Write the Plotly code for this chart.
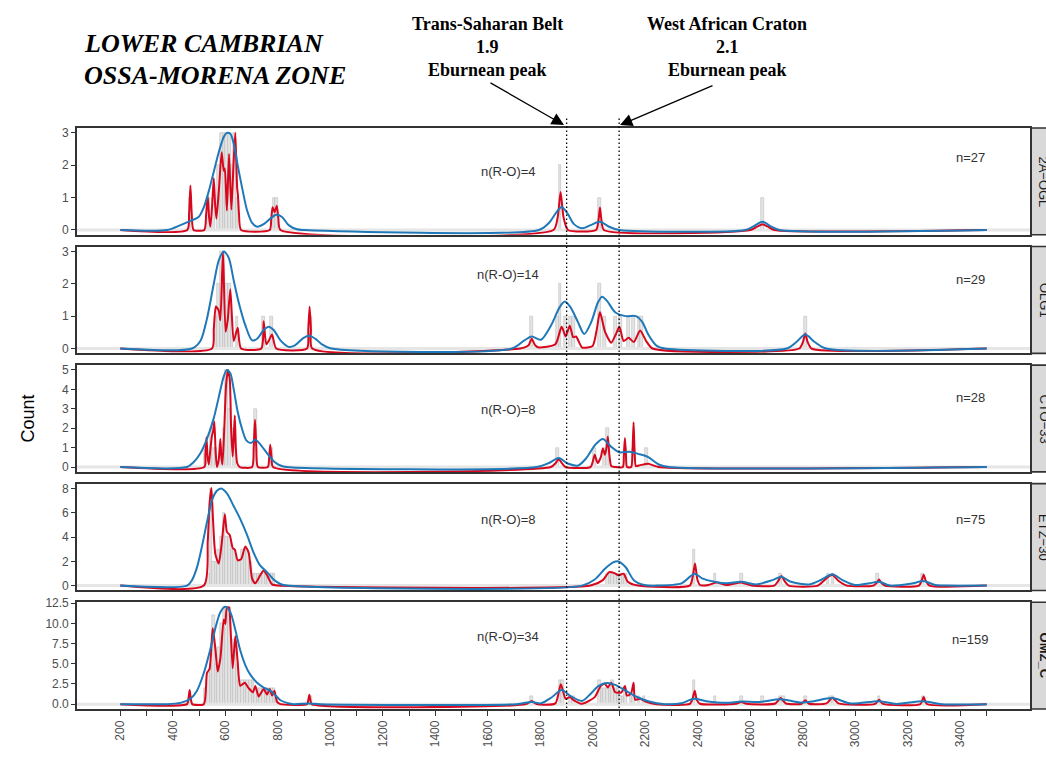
import plotly.graph_objects as go

# ---------------- data ----------------
PANEL_NAMES = ["2A\u2212OGL", "OLG1", "CTO\u221233", "ETZ\u221230", "OMZ_C"]
N_TOTAL = [27, 29, 28, 75, 159]
N_RO = [4, 14, 8, 8, 34]
Y_MAX = [3.15, 3.15, 5.25, 8.4, 12.62]
Y_MIN = [-0.15, -0.15, -0.25, -0.4, -0.6]
Y_TICKS = [[0, 1, 2, 3], [0, 1, 2, 3], [0, 1, 2, 3, 4, 5], [0, 2, 4, 6, 8],
           [0, 2.5, 5, 7.5, 10, 12.5]]
Y_TICK_TEXT = [["0", "1", "2", "3"], ["0", "1", "2", "3"], ["0", "1", "2", "3", "4", "5"],
               ["0", "2", "4", "6", "8"], ["0.0", "2.5", "5.0", "7.5", "10.0", "12.5"]]
RO_LABEL_Y = [1.82, 2.3, 2.94, 5.48, 8.33]
N_LABEL_Y = [2.24, 2.13, 3.56, 5.48, 7.94]

X_MIN, X_MAX = 35, 3665
X_TICKS = list(range(200, 3600, 100))
X_TICK_TEXT = [str(v) if v % 200 == 0 and v <= 3400 else "" for v in X_TICKS]
EBURNEAN_LINES = [1900, 2100]

# histograms (bin centre, count), binwidth 10 Ma
hist1_x = [465, 535, 555, 575, 585, 595, 605, 615, 625, 635, 645, 785, 795, 1875, 2025, 2645]
hist1_y = [1, 1, 1, 2, 3, 3, 3, 3, 2, 3, 1, 1, 1, 2, 1, 1]
hist2_x = [565, 575, 585, 595, 605, 615, 625, 645, 745, 775, 925, 1765, 1865, 1875, 1895, 1915,
           1925, 2025, 2045, 2085, 2105, 2135, 2155, 2175, 2185, 2810]
hist2_y = [1, 2, 3, 3, 2, 2, 1, 1, 1, 1, 1, 1, 1, 2, 1, 1, 1, 2, 1, 1, 1, 1, 1, 1, 1, 1]
hist3_x = [525, 545, 555, 565, 585, 595, 605, 615, 635, 715, 775, 1865, 2005, 2045, 2055, 2125,
           2155, 2205]
hist3_y = [1, 2, 1, 1, 1, 2, 5, 3, 2, 3, 1, 1, 1, 1, 2, 1, 1, 1]
hist4_x = [535, 545, 555, 565, 575, 585, 595, 605, 615, 625, 635, 645, 655, 665, 675, 685, 695,
           705, 715, 725, 735, 745, 755, 765, 775, 785, 2055, 2065, 2075, 2085, 2095, 2105, 2115,
           2125, 2385, 2465, 2565, 2715, 2895, 2915, 3085, 3255]
hist4_y = [1, 8, 2, 2, 3, 4, 6, 4, 4, 3, 3, 2, 2, 3, 3, 3, 2, 1, 1, 1, 1, 1, 1, 1, 1, 1,
           1, 1, 1, 1, 1, 1, 1, 1, 3, 1, 1, 1, 1, 1, 1, 1]
hist5_x = [465, 525, 535, 545, 555, 565, 575, 585, 595, 605, 615, 625, 635, 645, 655, 665, 675,
           685, 695, 705, 715, 725, 735, 745, 755, 765, 775, 785, 795, 925, 1765, 1875, 1885,
           1915, 1925, 2025, 2035, 2045, 2055, 2065, 2075, 2085, 2095, 2105, 2115, 2125, 2145,
           2155, 2175, 2195, 2385, 2465, 2565, 2645, 2715, 2725, 2810, 2905, 2915, 3090, 3260]
hist5_y = [1, 2, 4, 5, 11, 5, 7, 10, 12, 11, 12, 6, 8, 5, 3, 3, 3, 3, 3, 3, 2, 2, 2, 2, 2, 2,
           2, 2, 1, 1, 1, 3, 3, 1, 1, 3, 2, 2, 2, 2, 3, 2, 2, 1, 1, 2, 1, 1, 1, 1, 3, 1, 1, 1, 1,
           1, 1, 1, 1, 1, 1]

# narrow-bandwidth density (red)
red1_x = [200, 455, 462, 467, 472, 479, 520, 527, 533, 538, 543, 550, 556, 561, 566, 576, 586,
          594, 598, 606, 614, 623, 631, 638, 645, 648, 652, 660, 769, 775, 780, 788, 796, 802,
          810, 1850, 1866, 1877, 1888, 1905, 2012, 2022, 2027, 2032, 2042, 2600, 2625, 2646,
          2667, 2691, 3500]
red1_y = [0, 0, 0.5, 1.37, 0.5, 0, 0, 0.5, 1.04, 0.4, 0.1, 0.8, 1.6, 0.8, 0.35, 1.3, 2.4, 1.83,
          1.9, 0.6, 2.35, 0.63, 2.0, 3.0, 1.3, 1.08, 0.5, 0, 0, 0.35, 0.7, 0.55, 0.75, 0.35, 0,
          0, 0.4, 1.17, 0.4, 0, 0, 0.35, 0.69, 0.35, 0, 0, 0.1, 0.18, 0.1, 0, 0]
red2_x = [200, 549, 556, 564, 575, 581, 591, 601, 609, 619, 632, 647, 660, 737, 746, 756, 766,
          778, 794, 911, 916, 921, 926, 931, 1723, 1755, 1767, 1780, 1794, 1857, 1881, 1896,
          1912, 1925, 1936, 1959, 1999, 2015, 2027, 2046, 2070, 2088, 2101, 2117, 2136, 2156,
          2180, 2203, 2227, 2786, 2800, 2809, 2818, 2833, 3500]
red2_y = [0, 0, 0.6, 1.3, 1.17, 0.87, 3.0, 0.52, 0.87, 1.83, 0.23, 0.64, 0, 0, 0.84, 0.13, 0.25,
          0.43, 0, 0, 0.6, 1.29, 0.6, 0, 0, 0.1, 0.3, 0.1, 0.03, 0.13, 0.67, 0.38, 0.7, 0.35,
          0.37, 0.03, 0.08, 0.6, 1.13, 0.52, 0.18, 0.45, 0.67, 0.23, 0.33, 0.2, 0.56, 0.23, 0,
          0, 0.2, 0.46, 0.2, 0, 0]
red3_x = [200, 520, 524, 528, 532, 537, 543, 549, 553, 558, 563, 568, 575, 581, 585, 589, 596,
          603, 610, 617, 622, 628, 632, 636, 640, 645, 655, 702, 708, 713, 718, 724, 762, 767,
          771, 776, 782, 1840, 1858, 1870, 1882, 1896, 1991, 2000, 2007, 2018, 2030, 2038, 2046,
          2052, 2057, 2063, 2070, 2085, 2114, 2118, 2122, 2126, 2130, 2146, 2151, 2155, 2159,
          2164, 2180, 2211, 2251, 3500]
red3_y = [0, 0, 0.6, 1.53, 0.6, 0.13, 0.9, 1.62, 1.8, 2.35, 0.8, 0, 0.4, 1.45, 0.5, 0.13, 2.0,
          4.26, 5.0, 4.5, 2.0, 0.54, 1.5, 2.66, 1.0, 0.21, 0, 0, 1.0, 2.44, 1.0, 0, 0, 0.5, 1.15,
          0.5, 0, 0, 0.2, 0.41, 0.2, 0, 0, 0.3, 0.63, 0.21, 0.5, 0.96, 0.63, 1.0, 1.57, 0.6,
          0.05, 0, 0, 0.6, 1.49, 0.6, 0, 0, 0.8, 2.31, 0.8, 0.05, 0.1, 0.17, 0, 0]
red4_x = [200, 518, 533, 540, 547, 553, 562, 575, 587, 598, 606, 617, 628, 636, 647, 660, 676,
          689, 702, 714, 733, 746, 759, 778, 803, 1991, 2038, 2062, 2082, 2098, 2117, 2133, 2172,
          2369, 2380, 2389, 2398, 2408, 2440, 2471, 2510, 2565, 2605, 2691, 2705, 2718, 2731,
          2746, 2857, 2896, 2912, 2935, 2967, 3069, 3082, 3090, 3098, 3112, 3242, 3252, 3260,
          3268, 3282, 3500]
red4_y = [0, 0, 3.63, 6.8, 8.05, 5.48, 2.57, 1.83, 3.63, 5.88, 4.42, 4.16, 3.1, 2.97, 2.1, 2.17,
          3.23, 2.7, 0.58, 0.19, 0.85, 1.25, 0.85, 0.1, 0, 0, 0.45, 1.11, 1.03, 0.85, 0.98, 0.32,
          0, 0, 0.7, 1.83, 0.5, 0.05, 0.05, 0.26, 0.05, 0.26, 0, 0, 0.35, 0.8, 0.35, 0, 0, 0.72,
          0.9, 0.4, 0, 0, 0.25, 0.5, 0.25, 0, 0, 0.4, 0.9, 0.4, 0, 0]
red5_x = [200, 454, 460, 464, 468, 474, 518, 530, 540, 552, 562, 571, 581, 594, 600, 606, 614,
          619, 628, 638, 647, 657, 674, 689, 705, 714, 727, 746, 759, 769, 778, 787, 797, 810,
          911, 916, 920, 924, 929, 1745, 1767, 1786, 1857, 1878, 1896, 1912, 1928, 1959, 2007,
          2030, 2046, 2057, 2070, 2085, 2109, 2122, 2129, 2145, 2155, 2161, 2180, 2203, 2243,
          2369, 2380, 2388, 2396, 2408, 2545, 2565, 2585, 2695, 2715, 2735, 2795, 2809, 2823,
          2890, 2912, 2935, 3075, 3090, 3105, 3248, 3260, 3272, 3500]
red5_y = [0, 0, 0.8, 1.75, 0.8, 0, 0, 3.85, 4.37, 9.4, 6.83, 4.05, 5.63, 10.48, 9.92, 11.98,
          11.98, 10.0, 4.44, 8.41, 5.24, 2.26, 2.66, 1.98, 1.47, 2.26, 0.95, 1.87, 1.19, 1.87,
          1.07, 1.67, 0.28, 0, 0, 0.5, 1.15, 0.5, 0, 0, 0.4, 0, 0.1, 2.46, 0.67, 0.87, 0.48,
          0.05, 0.87, 2.26, 2.54, 2.06, 2.66, 1.47, 1.47, 2.26, 1.07, 1.27, 2.66, 0.56, 0.67,
          0.28, 0, 0.03, 0.7, 1.67, 0.5, 0.05, 0.05, 0.28, 0.05, 0.08, 0.75, 0.08, 0.05, 0.48,
          0.05, 0.1, 0.79, 0.1, 0.03, 0.56, 0.03, 0.02, 0.87, 0.02, 0]

# wide-bandwidth density (blue)
blue1_x = [200, 378, 429, 467, 498, 518, 537, 556, 575, 594, 606, 619, 632, 647, 664, 683, 702,
           721, 746, 771, 794, 816, 841, 873, 900, 1794, 1833, 1857, 1881, 1904, 1928, 1959,
           1991, 2027, 2062, 2101, 2581, 2610, 2646, 2680, 2711, 3500]
blue1_y = [0, 0, 0.15, 0.28, 0.4, 0.7, 1.2, 1.8, 2.4, 2.87, 3.0, 2.97, 2.67, 2.0, 1.3, 0.6, 0.22,
           0.1, 0.18, 0.35, 0.47, 0.4, 0.15, 0.02, 0, 0, 0.22, 0.5, 0.71, 0.5, 0.18, 0.05, 0.15,
           0.25, 0.1, 0, 0, 0.1, 0.25, 0.1, 0, 0]
blue2_x = [200, 473, 505, 530, 556, 575, 594, 613, 632, 651, 676, 702, 721, 746, 765, 784, 810,
           841, 865, 898, 921, 943, 968, 1000, 1692, 1739, 1767, 1802, 1841, 1873, 1893, 1915,
           1944, 1967, 1994, 2019, 2035, 2054, 2085, 2125, 2164, 2188, 2211, 2243, 2274, 2739,
           2775, 2809, 2845, 2888, 3500]
blue2_y = [0, 0, 0.23, 0.92, 2.0, 2.72, 3.0, 2.8, 2.1, 1.42, 0.72, 0.25, 0.3, 0.57, 0.67, 0.57,
           0.25, 0.05, 0.1, 0.33, 0.39, 0.3, 0.13, 0.01, 0, 0.25, 0.37, 0.27, 0.72, 1.27, 1.45,
           1.27, 0.8, 0.45, 0.82, 1.42, 1.6, 1.47, 1.12, 1.0, 1.0, 0.82, 0.43, 0.08, 0, 0, 0.2,
           0.43, 0.2, 0, 0]
blue3_x = [200, 454, 479, 505, 530, 556, 575, 594, 606, 619, 632, 647, 664, 680, 698, 714, 733,
           759, 784, 810, 835, 1786, 1833, 1870, 1904, 1944, 1975, 2010, 2038, 2070, 2101, 2140,
           2172, 2211, 2251, 2290, 3500]
blue3_y = [0, 0, 0.25, 0.71, 1.45, 2.52, 3.6, 4.67, 5.0, 4.83, 4.0, 2.85, 1.95, 1.37, 1.24, 1.4,
           1.17, 0.71, 0.3, 0.08, 0, 0, 0.21, 0.46, 0.18, 0.08, 0.46, 1.17, 1.45, 1.04, 0.76,
           0.79, 0.68, 0.51, 0.13, 0, 0]
blue4_x = [200, 454, 473, 492, 511, 530, 549, 568, 584, 606, 632, 657, 683, 708, 733, 759, 784,
           810, 835, 1959, 2007, 2046, 2077, 2098, 2125, 2156, 2196, 2243, 2337, 2369, 2388,
           2416, 2463, 2510, 2565, 2621, 2684, 2718, 2754, 2825, 2872, 2912, 2951, 2998, 3053,
           3090, 3132, 3219, 3258, 3305, 3345, 3500]
blue4_y = [0, 0, 0.45, 1.5, 3.23, 5.22, 7.02, 7.81, 8.0, 7.6, 6.54, 5.48, 4.16, 2.7, 1.64, 1.11,
           0.5, 0.13, 0, 0, 0.5, 1.38, 1.91, 1.99, 1.51, 0.45, 0.05, 0, 0.18, 0.72, 0.98, 0.6,
           0.32, 0.19, 0.32, 0.1, 0.45, 0.72, 0.32, 0.1, 0.5, 0.93, 0.45, 0.05, 0.19, 0.32, 0,
           0.19, 0.37, 0.05, 0, 0]
blue5_x = [200, 378, 429, 467, 492, 518, 543, 562, 581, 600, 619, 638, 657, 676, 695, 721, 746,
           771, 791, 810, 835, 860, 918, 962, 1708, 1767, 1802, 1841, 1881, 1912, 1959, 1991,
           2022, 2054, 2085, 2125, 2164, 2211, 2274, 2337, 2384, 2432, 2510, 2565, 2636, 2715,
           2794, 2841, 2912, 2983, 3090, 3156, 3258, 3329, 3500]
blue5_y = [0, 0, 0.16, 0.67, 1.67, 3.85, 6.83, 9.4, 11.39, 12.06, 11.39, 9.2, 6.63, 4.84, 3.65,
           2.66, 2.06, 1.67, 1.07, 0.48, 0.16, 0, 0.08, 0, 0, 0.28, 0.1, 0.79, 1.75, 1.07, 0.4,
           1.27, 2.26, 2.62, 2.38, 1.67, 0.95, 0.36, 0, 0.1, 0.67, 0.36, 0.16, 0.32, 0.28, 0.6,
           0.2, 0.36, 0.75, 0.08, 0.36, 0.03, 0.36, 0, 0]

HIST_X = [hist1_x, hist2_x, hist3_x, hist4_x, hist5_x]
HIST_Y = [hist1_y, hist2_y, hist3_y, hist4_y, hist5_y]
RED_X = [red1_x, red2_x, red3_x, red4_x, red5_x]
RED_Y = [red1_y, red2_y, red3_y, red4_y, red5_y]
BLUE_X = [blue1_x, blue2_x, blue3_x, blue4_x, blue5_x]
BLUE_Y = [blue1_y, blue2_y, blue3_y, blue4_y, blue5_y]

# ---------------- layout geometry ----------------
W, H = 1046, 759
ML, MR, MT, MB = 77, 16, 128, 37
PLOT_W = W - ML - MR
PLOT_H = H - MT - MB
PANEL_H = 109.2
GAP = 12.0

RED = "#D7081E"
BLUE = "#1F78B8"
BORDER = "#333333"
TICK_COL = "#4D4D4D"
SANS = "Liberation Sans, Arial, sans-serif"
SERIF = "Liberation Serif, Times New Roman, serif"


def px_x(px):
    return (px - ML) / PLOT_W


def px_y(py):
    return (H - MB - py) / PLOT_H


fig = go.Figure()
layout = dict(
    width=W, height=H,
    margin=dict(l=ML, r=MR, t=MT, b=MB, pad=0),
    paper_bgcolor="white", plot_bgcolor="white",
    showlegend=False,
    font=dict(family=SANS, color=TICK_COL, size=12),
)
shapes = []
annotations = []

for i in range(5):
    k = i + 1
    xs = "" if k == 1 else str(k)
    top_px = i * (PANEL_H + GAP)
    d_top = 1 - top_px / PLOT_H
    d_bot = 1 - (top_px + PANEL_H) / PLOT_H
    xa = dict(
        domain=[0, 1], anchor="y" + xs, range=[X_MIN, X_MAX],
        showline=True, mirror=True, linecolor=BORDER, linewidth=1.6,
        showgrid=False, zeroline=False,
        tickvals=X_TICKS, ticktext=X_TICK_TEXT,
    )
    if k == 5:
        xa.update(ticks="outside", ticklen=5, tickwidth=1, tickcolor=BORDER,
                  showticklabels=True, tickangle=-90,
                  tickfont=dict(size=12, color=TICK_COL, family=SANS))
    else:
        xa.update(ticks="", showticklabels=False)
    ya = dict(
        domain=[d_bot, d_top], anchor="x" + xs, range=[Y_MIN[i], Y_MAX[i]],
        showline=True, mirror=True, linecolor=BORDER, linewidth=1.6,
        showgrid=False, zeroline=False,
        ticks="outside", ticklen=4, tickwidth=1, tickcolor=BORDER,
        tickvals=Y_TICKS[i], ticktext=Y_TICK_TEXT[i],
        tickfont=dict(size=12, color=TICK_COL, family=SANS),
    )
    layout["xaxis" + xs] = xa
    layout["yaxis" + xs] = ya

    # light baseline at zero across the panel
    fig.add_trace(go.Scatter(x=[X_MIN, X_MAX], y=[0, 0], mode="lines",
                             line=dict(color="#E6E6E6", width=3),
                             xaxis="x" + xs, yaxis="y" + xs, hoverinfo="skip"))
    # histogram
    fig.add_trace(go.Bar(x=HIST_X[i], y=HIST_Y[i], width=10,
                         marker=dict(color="#E4E4E4", line=dict(color="#BDBDBD", width=0.6)),
                         xaxis="x" + xs, yaxis="y" + xs))
    # narrow density (red)
    fig.add_trace(go.Scatter(x=RED_X[i], y=RED_Y[i], mode="lines",
                             line=dict(color=RED, width=2, shape="spline", smoothing=0.6),
                             xaxis="x" + xs, yaxis="y" + xs))
    # wide density (blue)
    fig.add_trace(go.Scatter(x=BLUE_X[i], y=BLUE_Y[i], mode="lines",
                             line=dict(color=BLUE, width=2, shape="spline", smoothing=0.8),
                             xaxis="x" + xs, yaxis="y" + xs))

    # labels inside panel
    annotations.append(dict(x=1678, y=RO_LABEL_Y[i], xref="x" + xs, yref="y" + xs,
                            text=f"n(R-O)={N_RO[i]}", showarrow=False,
                            font=dict(size=13, color="#333333", family=SANS)))
    annotations.append(dict(x=3440, y=N_LABEL_Y[i], xref="x" + xs, yref="y" + xs,
                            text=f"n={N_TOTAL[i]}", showarrow=False,
                            font=dict(size=13, color="#333333", family=SANS)))

    # facet strip on the right
    shapes.append(dict(type="rect", xref="paper", yref="paper",
                       x0=px_x(1031), x1=px_x(1066), y0=d_bot, y1=d_top,
                       fillcolor="#D9D9D9", line=dict(color=BORDER, width=1.6), layer="below"))
    strip_txt = f"<b>{PANEL_NAMES[i]}</b>" if k == 5 else PANEL_NAMES[i]
    annotations.append(dict(x=px_x(1044), y=(d_bot + d_top) / 2, xref="paper", yref="paper",
                            text=strip_txt, textangle=90, showarrow=False,
                            xanchor="center", yanchor="middle",
                            font=dict(size=13, color="#1A1A1A", family=SANS)))

# dotted reference lines (Eburnean peaks)
for xv in EBURNEAN_LINES:
    shapes.append(dict(type="line", xref="x", yref="paper", x0=xv, x1=xv,
                       y0=px_y(721), y1=px_y(117),
                       line=dict(color="black", width=1.3, dash="1.5px,2.5px")))

# y title
annotations.append(dict(x=px_x(27), y=px_y(425), xref="paper", yref="paper", text="Count",
                        textangle=-90, showarrow=False, xanchor="center", yanchor="middle",
                        font=dict(size=18, color="black", family=SANS)))

# title block
for txt, py in [("LOWER CAMBRIAN", 42), ("OSSA-MORENA ZONE", 74)]:
    annotations.append(dict(x=px_x(82), y=px_y(py), xref="paper", yref="paper", text=txt,
                            showarrow=False, xanchor="left", yanchor="middle",
                            font=dict(size=26, color="black", family=SERIF,
                                      weight="bold", style="italic")))

# peak labels
for cx, lines in [(487, ["Trans-Saharan Belt", "1.9", "Eburnean peak"]),
                  (727, ["West African Craton", "2.1", "Eburnean peak"])]:
    for txt, py in zip(lines, [22, 45, 69]):
        annotations.append(dict(x=px_x(cx), y=px_y(py), xref="paper", yref="paper", text=txt,
                                showarrow=False, xanchor="center", yanchor="middle",
                                font=dict(size=18, color="black", family=SERIF, weight="bold")))

# arrows
for (hx, hy), (tx, ty) in [((564, 125), (489, 82)), ((620, 125), (714, 85))]:
    annotations.append(dict(x=px_x(hx), y=px_y(hy), xref="paper", yref="paper", text="",
                            showarrow=True, ax=tx - hx, ay=ty - hy, axref="pixel", ayref="pixel",
                            arrowhead=2, arrowsize=1.9, arrowwidth=1.3, arrowcolor="black",
                            standoff=0, startstandoff=0))

layout["shapes"] = shapes
layout["annotations"] = annotations
layout["bargap"] = 0
fig.update_layout(**layout)

fig.write_html("out.html")
